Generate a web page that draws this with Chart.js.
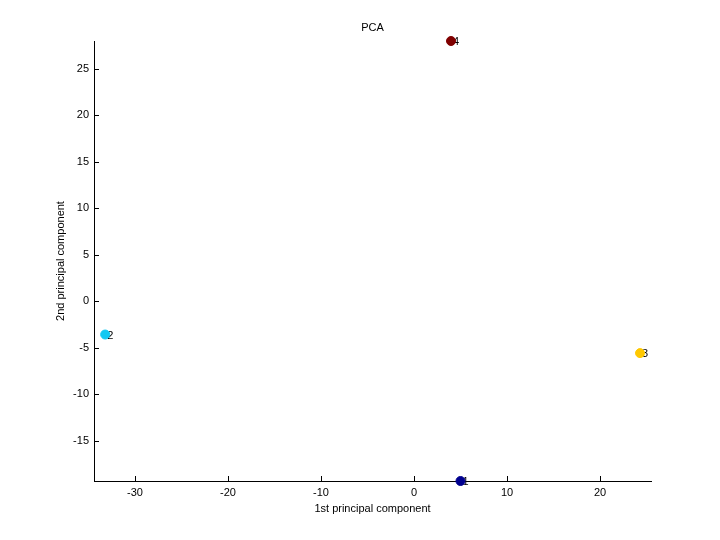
<!DOCTYPE html>
<html>
<head>
<meta charset="utf-8">
<script src="https://cdn.jsdelivr.net/npm/chart.js@4"></script>
<style>
  html, body { margin: 0; padding: 0; background: #fff; }
  #wrap { width: 720px; height: 540px; }
</style>
</head>
<body>
<div id="wrap"><canvas id="pca"></canvas></div>
<script>
// data
var pointLabels = ['1', '2', '3', '4'];
var pc1 = [5.0, -33.2, 24.3, 3.98];
var pc2 = [-19.35, -3.6, -5.6, 27.96];
var pointColors = ['#00008f', '#12c8f2', '#ffc800', '#800000'];
var xTicks = [-30, -20, -10, 0, 10, 20];
var yTicks = [-15, -10, -5, 0, 5, 10, 15, 20, 25];

var FONT = { family: 'Liberation Sans, Arial, sans-serif', size: 11 };

// ticks pointing into the plot, like the original
var inwardTicks = {
    id: 'inwardTicks',
    afterDatasetsDraw: function (chart) {
        var ctx = chart.ctx;
        var xs = chart.scales.x, ys = chart.scales.y;
        var area = chart.chartArea;
        ctx.save();
        ctx.strokeStyle = '#000';
        ctx.lineWidth = 1;
        ctx.beginPath();
        xTicks.forEach(function (v) {
            var px = Math.round(xs.getPixelForValue(v)) + 0.5;
            ctx.moveTo(px, area.bottom);
            ctx.lineTo(px, area.bottom - 5);
        });
        yTicks.forEach(function (v) {
            var py = Math.round(ys.getPixelForValue(v)) + 0.5;
            ctx.moveTo(area.left, py);
            ctx.lineTo(area.left + 5, py);
        });
        ctx.stroke();
        ctx.restore();
    }
};

// number next to each point (under the marker) + the title
var labelsPlugin = {
    id: 'labelsPlugin',
    beforeDatasetsDraw: function (chart) {
        var ctx = chart.ctx;
        var meta = chart.getDatasetMeta(0);
        ctx.save();
        ctx.font = FONT.size + 'px ' + FONT.family;
        ctx.fillStyle = '#000';
        ctx.textBaseline = 'middle';
        ctx.textAlign = 'left';
        meta.data.forEach(function (pt, i) {
            ctx.fillText(pointLabels[i], pt.x + 2, pt.y + 1);
        });
        ctx.textAlign = 'center';
        var area = chart.chartArea;
        ctx.fillText('PCA', (area.left + area.right) / 2, 28);
        ctx.restore();
    }
};

var chart = new Chart(document.getElementById('pca'), {
    type: 'scatter',
    data: {
        datasets: [{
            data: pc1.map(function (x, i) { return { x: x, y: pc2[i] }; }),
            backgroundColor: pointColors,
            borderColor: pointColors,
            borderWidth: 1,
            pointRadius: 4.5,
            pointHoverRadius: 4.5,
            clip: false
        }]
    },
    options: {
        responsive: true,
        maintainAspectRatio: false,
        animation: false,
        events: [],
        layout: { padding: { left: 0, right: 69, top: 41, bottom: 0 } },
        plugins: {
            legend: { display: false },
            tooltip: { enabled: false }
        },
        scales: {
            x: {
                type: 'linear',
                min: -34.4,
                max: 25.48,
                afterBuildTicks: function (s) { s.ticks = xTicks.map(function (v) { return { value: v }; }); },
                afterFit: function (s) { s.height = 59; },
                grid: { display: false, drawTicks: false },
                border: { display: true, color: '#000', width: 1 },
                ticks: { color: '#000', font: FONT, padding: 5, maxRotation: 0, autoSkip: false },
                title: {
                    display: true,
                    text: '1st principal component',
                    color: '#000',
                    font: FONT,
                    padding: { top: 0, bottom: 24 }
                }
            },
            y: {
                type: 'linear',
                min: -19.35,
                max: 27.96,
                afterBuildTicks: function (s) { s.ticks = yTicks.map(function (v) { return { value: v }; }); },
                afterFit: function (s) { s.width = 94; },
                grid: { display: false, drawTicks: false },
                border: { display: true, color: '#000', width: 1 },
                ticks: { color: '#000', font: FONT, padding: 5, autoSkip: false },
                title: {
                    display: true,
                    text: '2nd principal component',
                    color: '#000',
                    font: FONT,
                    padding: { top: 54, bottom: 0 }
                }
            }
        }
    },
    plugins: [inwardTicks, labelsPlugin]
});
</script>
</body>
</html>
